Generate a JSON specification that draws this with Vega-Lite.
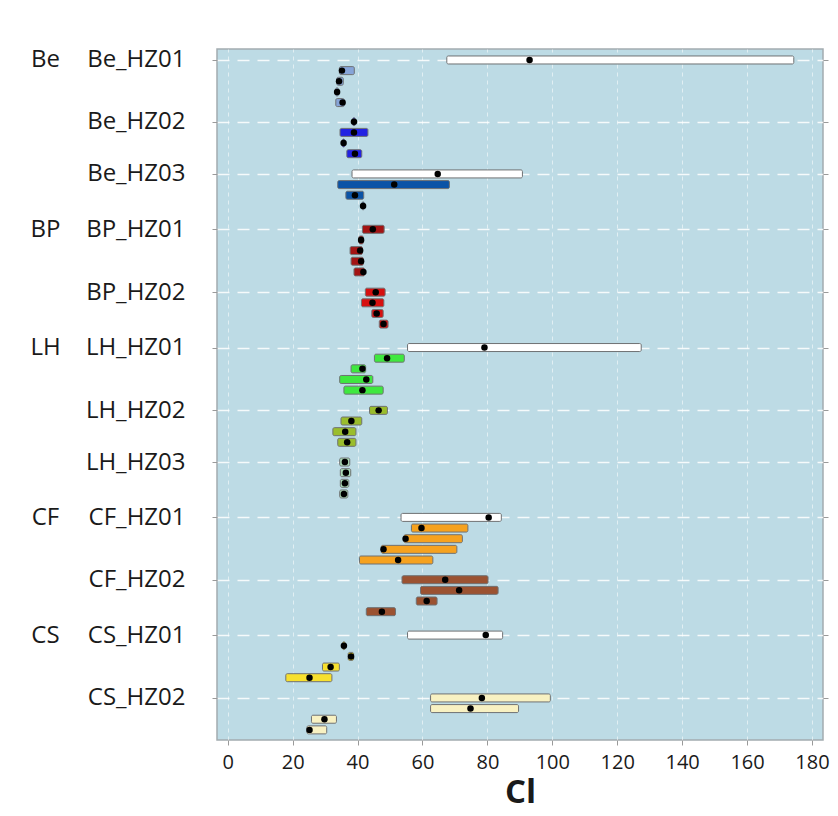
{
  "$schema": "https://vega.github.io/schema/vega-lite/v6.json",
  "width": 606,
  "height": 691,
  "autosize": {"type": "none"},
  "padding": {"left": 217, "top": 49, "right": 15, "bottom": 76},
  "background": "white",
  "config": {
    "view": {"fill": "#bddbe5", "stroke": "#a3acb0", "strokeWidth": 1.5},
    "axis": {"labelFont": "Open Sans", "titleFont": "Open Sans", "labelColor": "#1a1a1a", "titleColor": "#1a1a1a", "domain": false}
  },
  "data": {
    "values": [
      {"g": "Be", "site": "Be_HZ01", "pos": 0, "lo": 67.5, "hi": 174.4, "mid": 93.0, "stat": "total"},
      {"g": "Be", "site": "Be_HZ01", "pos": 1, "lo": 34.4, "hi": 39.0, "mid": 35.2, "stat": "sub"},
      {"g": "Be", "site": "Be_HZ01", "pos": 2, "lo": 33.6, "hi": 35.6, "mid": 34.3, "stat": "sub"},
      {"g": "Be", "site": "Be_HZ01", "pos": 3, "lo": 33.2, "hi": 34.2, "mid": 33.7, "stat": "sub"},
      {"g": "Be", "site": "Be_HZ01", "pos": 4, "lo": 33.3, "hi": 35.9, "mid": 35.4, "stat": "sub"},
      {"g": "Be", "site": "Be_HZ02", "pos": 5.8, "lo": 38.5, "hi": 39.3, "mid": 38.9, "stat": "sub"},
      {"g": "Be", "site": "Be_HZ02", "pos": 6.8, "lo": 34.6, "hi": 43.2, "mid": 38.9, "stat": "sub"},
      {"g": "Be", "site": "Be_HZ02", "pos": 7.8, "lo": 35.3, "hi": 36.1, "mid": 35.7, "stat": "sub"},
      {"g": "Be", "site": "Be_HZ02", "pos": 8.8, "lo": 36.7, "hi": 41.3, "mid": 39.2, "stat": "sub"},
      {"g": "Be", "site": "Be_HZ03", "pos": 10.7, "lo": 38.3, "hi": 90.8, "mid": 64.7, "stat": "total"},
      {"g": "Be", "site": "Be_HZ03", "pos": 11.7, "lo": 33.9, "hi": 68.3, "mid": 51.3, "stat": "sub"},
      {"g": "Be", "site": "Be_HZ03", "pos": 12.7, "lo": 36.4, "hi": 41.9, "mid": 39.2, "stat": "sub"},
      {"g": "Be", "site": "Be_HZ03", "pos": 13.7, "lo": 41.3, "hi": 42.1, "mid": 41.7, "stat": "sub"},
      {"g": "BP", "site": "BP_HZ01", "pos": 15.9, "lo": 41.5, "hi": 48.2, "mid": 44.7, "stat": "sub"},
      {"g": "BP", "site": "BP_HZ01", "pos": 16.9, "lo": 40.4, "hi": 41.8, "mid": 41.1, "stat": "sub"},
      {"g": "BP", "site": "BP_HZ01", "pos": 17.9, "lo": 37.7, "hi": 41.5, "mid": 40.8, "stat": "sub"},
      {"g": "BP", "site": "BP_HZ01", "pos": 18.9, "lo": 38.0, "hi": 41.8, "mid": 41.1, "stat": "sub"},
      {"g": "BP", "site": "BP_HZ01", "pos": 19.9, "lo": 38.9, "hi": 42.2, "mid": 41.8, "stat": "sub"},
      {"g": "BP", "site": "BP_HZ02", "pos": 21.8, "lo": 42.4, "hi": 48.5, "mid": 45.6, "stat": "sub"},
      {"g": "BP", "site": "BP_HZ02", "pos": 22.8, "lo": 41.2, "hi": 48.1, "mid": 44.6, "stat": "sub"},
      {"g": "BP", "site": "BP_HZ02", "pos": 23.8, "lo": 44.4, "hi": 47.9, "mid": 45.9, "stat": "sub"},
      {"g": "BP", "site": "BP_HZ02", "pos": 24.8, "lo": 46.7, "hi": 49.4, "mid": 48.0, "stat": "sub"},
      {"g": "LH", "site": "LH_HZ01", "pos": 27, "lo": 55.4, "hi": 127.4, "mid": 79.1, "stat": "total"},
      {"g": "LH", "site": "LH_HZ01", "pos": 28, "lo": 45.2, "hi": 54.4, "mid": 49.1, "stat": "sub"},
      {"g": "LH", "site": "LH_HZ01", "pos": 29, "lo": 38.0, "hi": 42.5, "mid": 41.5, "stat": "sub"},
      {"g": "LH", "site": "LH_HZ01", "pos": 30, "lo": 34.5, "hi": 44.7, "mid": 42.7, "stat": "sub"},
      {"g": "LH", "site": "LH_HZ01", "pos": 31, "lo": 35.8, "hi": 47.9, "mid": 41.5, "stat": "sub"},
      {"g": "LH", "site": "LH_HZ02", "pos": 32.9, "lo": 43.7, "hi": 49.2, "mid": 46.5, "stat": "sub"},
      {"g": "LH", "site": "LH_HZ02", "pos": 33.9, "lo": 34.9, "hi": 41.3, "mid": 38.1, "stat": "sub"},
      {"g": "LH", "site": "LH_HZ02", "pos": 34.9, "lo": 32.4, "hi": 39.5, "mid": 36.2, "stat": "sub"},
      {"g": "LH", "site": "LH_HZ02", "pos": 35.9, "lo": 33.9, "hi": 39.5, "mid": 36.8, "stat": "sub"},
      {"g": "LH", "site": "LH_HZ03", "pos": 37.75, "lo": 34.5, "hi": 37.6, "mid": 36.1, "stat": "sub"},
      {"g": "LH", "site": "LH_HZ03", "pos": 38.75, "lo": 34.7, "hi": 37.9, "mid": 36.4, "stat": "sub"},
      {"g": "LH", "site": "LH_HZ03", "pos": 39.75, "lo": 34.7, "hi": 37.3, "mid": 36.1, "stat": "sub"},
      {"g": "LH", "site": "LH_HZ03", "pos": 40.75, "lo": 34.5, "hi": 37.0, "mid": 35.8, "stat": "sub"},
      {"g": "CF", "site": "CF_HZ01", "pos": 42.95, "lo": 53.4, "hi": 84.3, "mid": 80.4, "stat": "total"},
      {"g": "CF", "site": "CF_HZ01", "pos": 43.95, "lo": 56.6, "hi": 74.0, "mid": 59.7, "stat": "sub"},
      {"g": "CF", "site": "CF_HZ01", "pos": 44.95, "lo": 54.3, "hi": 72.3, "mid": 54.8, "stat": "sub"},
      {"g": "CF", "site": "CF_HZ01", "pos": 45.95, "lo": 47.3, "hi": 70.6, "mid": 48.0, "stat": "sub"},
      {"g": "CF", "site": "CF_HZ01", "pos": 46.95, "lo": 40.6, "hi": 63.2, "mid": 52.5, "stat": "sub"},
      {"g": "CF", "site": "CF_HZ02", "pos": 48.8, "lo": 53.7, "hi": 80.2, "mid": 67.0, "stat": "sub"},
      {"g": "CF", "site": "CF_HZ02", "pos": 49.8, "lo": 59.4, "hi": 83.3, "mid": 71.3, "stat": "sub"},
      {"g": "CF", "site": "CF_HZ02", "pos": 50.8, "lo": 58.1, "hi": 64.5, "mid": 61.3, "stat": "sub"},
      {"g": "CF", "site": "CF_HZ02", "pos": 51.8, "lo": 42.7, "hi": 51.7, "mid": 47.5, "stat": "sub"},
      {"g": "CS", "site": "CS_HZ01", "pos": 54, "lo": 55.4, "hi": 84.7, "mid": 79.5, "stat": "total"},
      {"g": "CS", "site": "CS_HZ01", "pos": 55, "lo": 35.4, "hi": 36.2, "mid": 35.8, "stat": "sub"},
      {"g": "CS", "site": "CS_HZ01", "pos": 56, "lo": 37.1, "hi": 38.8, "mid": 38.0, "stat": "sub"},
      {"g": "CS", "site": "CS_HZ01", "pos": 57, "lo": 29.2, "hi": 34.4, "mid": 31.7, "stat": "sub"},
      {"g": "CS", "site": "CS_HZ01", "pos": 58, "lo": 17.9, "hi": 32.1, "mid": 25.2, "stat": "sub"},
      {"g": "CS", "site": "CS_HZ02", "pos": 59.9, "lo": 62.5, "hi": 99.4, "mid": 78.3, "stat": "sub"},
      {"g": "CS", "site": "CS_HZ02", "pos": 60.9, "lo": 62.5, "hi": 89.6, "mid": 74.8, "stat": "sub"},
      {"g": "CS", "site": "CS_HZ02", "pos": 61.9, "lo": 25.8, "hi": 33.5, "mid": 29.8, "stat": "sub"},
      {"g": "CS", "site": "CS_HZ02", "pos": 62.9, "lo": 24.4, "hi": 30.5, "mid": 25.2, "stat": "sub"}
    ]
  },
  "resolve": {"scale": {"y": "independent"}, "axis": {"y": "independent"}},
  "layer": [
    {
      "mark": {"type": "bar", "orient": "horizontal", "size": 8, "stroke": "#6f7173", "strokeWidth": 1, "cornerRadius": 1.5},
      "encoding": {
        "y": {
          "field": "pos", "type": "quantitative",
          "scale": {"domain": [-1.03, 63.85], "reverse": true, "nice": false, "zero": false, "padding": 0},
          "axis": {
            "orient": "left",
            "values": [0, 5.8, 10.7, 15.9, 21.8, 27, 32.9, 37.75, 42.95, 48.8, 54, 59.9],
            "labelExpr": "['Be_HZ01','Be_HZ02','Be_HZ03','BP_HZ01','BP_HZ02','LH_HZ01','LH_HZ02','LH_HZ03','CF_HZ01','CF_HZ02','CS_HZ01','CS_HZ02'][indexof([0,5.8,10.7,15.9,21.8,27,32.9,37.75,42.95,48.8,54,59.9], datum.value)]",
            "title": null,
            "labelFontSize": 24,
            "labelPadding": 27,
            "tickSize": 5,
            "tickColor": "#9a9a9a",
            "labelOverlap": false,
            "labelFlush": false,
            "labelBound": false,
            "grid": true,
            "gridColor": "#ffffff",
            "gridDash": [12, 8],
            "gridWidth": 1.6,
            "gridOpacity": 0.85
          }
        },
        "x": {
          "field": "lo", "type": "quantitative",
          "scale": {"domain": [-3.3, 183.4], "nice": false, "zero": false, "padding": 0},
          "axis": {
            "values": [0, 20, 40, 60, 80, 100, 120, 140, 160, 180],
            "title": "Cl",
            "titleFontSize": 33,
            "titleFontWeight": "bold",
            "titlePadding": 4,
            "labelFontSize": 20,
            "labelPadding": 7,
            "tickSize": 5,
            "tickColor": "#9a9a9a",
            "grid": true,
            "gridColor": "#ffffff",
            "gridDash": [4, 4],
            "gridWidth": 1,
            "gridOpacity": 0.55
          }
        },
        "x2": {"field": "hi"},
        "color": {
          "condition": {"test": "datum.stat == 'total'", "value": "#ffffff"},
          "field": "site", "type": "nominal", "legend": null,
          "scale": {
            "domain": ["Be_HZ01", "Be_HZ02", "Be_HZ03", "BP_HZ01", "BP_HZ02", "LH_HZ01", "LH_HZ02", "LH_HZ03", "CF_HZ01", "CF_HZ02", "CS_HZ01", "CS_HZ02"],
            "range": ["#86a4d8", "#2222e2", "#0b53a6", "#a31414", "#d61010", "#3fe83f", "#9abd2c", "#a9d9b4", "#f6a21f", "#9b5231", "#f7e02e", "#f8f1c2"]
          }
        },
        "opacity": {"value": 1}
      }
    },
    {
      "mark": {"type": "circle", "size": 42, "color": "#000000", "opacity": 1},
      "encoding": {
        "y": {
          "field": "pos", "type": "quantitative",
          "scale": {"domain": [-1.03, 63.85], "reverse": true, "nice": false, "zero": false, "padding": 0},
          "axis": {
            "orient": "left",
            "values": [0, 15.9, 27, 42.95, 54],
            "labelExpr": "['Be','BP','LH','CF','CS'][indexof([0,15.9,27,42.95,54], datum.value)]",
            "title": null,
            "labelFontSize": 24,
            "labelAlign": "center",
            "labelPadding": 172,
            "ticks": false,
            "tickSize": 0,
            "grid": false,
            "labelOverlap": false,
            "labelFlush": false,
            "labelBound": false
          }
        },
        "x": {"field": "mid", "type": "quantitative", "scale": {"padding": 0}}
      }
    },
    {
      "mark": {"type": "circle", "size": 42, "color": "#000000", "opacity": 0},
      "encoding": {
        "y": {
          "field": "pos", "type": "quantitative",
          "scale": {"domain": [-1.03, 63.85], "reverse": true, "nice": false, "zero": false, "padding": 0},
          "axis": {
            "orient": "right",
            "values": [0, 5.8, 10.7, 15.9, 21.8, 27, 32.9, 37.75, 42.95, 48.8, 54, 59.9],
            "labels": false,
            "title": null,
            "tickSize": 5,
            "tickColor": "#9a9a9a",
            "grid": false
          }
        },
        "x": {"field": "mid", "type": "quantitative", "scale": {"padding": 0}}
      }
    }
  ]
}
